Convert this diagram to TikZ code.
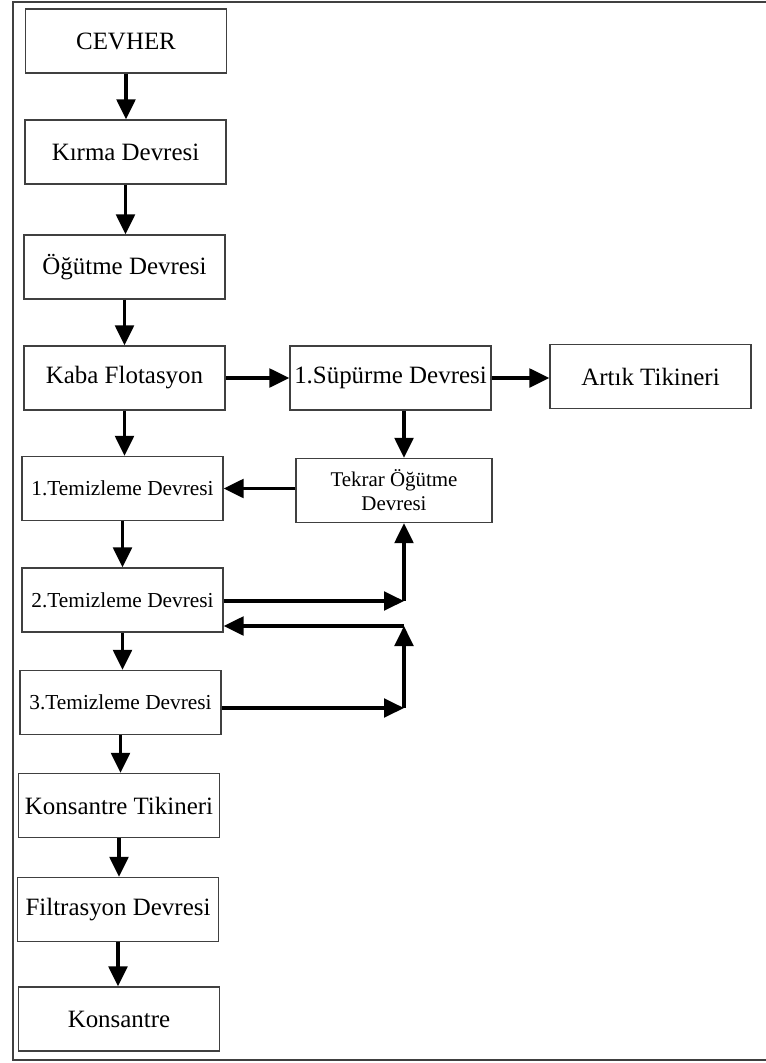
\documentclass[tikz,border=0pt]{standalone}
\usepackage{fontspec}
\setmainfont{Liberation Serif}
\usetikzlibrary{arrows.meta}
\definecolor{framegray}{HTML}{404040}
\begin{document}
\begin{tikzpicture}[x=0.75pt,y=-0.75pt,
        box/.style={draw=framegray,line width=0.9pt,rectangle,minimum width=150.75pt,minimum height=48pt,inner sep=0pt,align=center,font=\fontsize{18.7}{21}\selectfont},
        smallbox/.style={box,font=\fontsize{16}{19}\selectfont},
        flow/.style={line width=2.4pt,-{Triangle[length=15pt,width=14pt]}}]
    \useasboundingbox (0,0) rectangle (765,1063);
    %% Frame
    \draw[framegray,line width=1.1pt] (13,2) rectangle (800,1060);
    %% Main column
    \node[box] (cevher) at (126,41) {CEVHER};
    \node[box] (kirma) at (125.5,152) {Kırma Devresi};
    \node[box] (ogutme) at (124.5,267) {Öğütme Devresi};
    \node[box] (kaba) at (124.5,378) {Kaba Flotasyon};
    \node[smallbox] (tem1) at (122.5,488.5) {1.Temizleme Devresi};
    \node[smallbox] (tem2) at (122.5,600) {2.Temizleme Devresi};
    \node[smallbox] (tem3) at (120.5,702.5) {3.Temizleme Devresi};
    \node[box] (ktik) at (119,805.5) {Konsantre Tikineri};
    \node[box] (filt) at (118,909.5) {Filtrasyon Devresi};
    \node[box] (kons) at (119,1019) {Konsantre};
    %% Scavenger side
    \node[box] (sup) at (390.5,378) {1.Süpürme Devresi};
    \node[box] (artik) at (650.5,376.5) {Artık Tikineri};
    \node[box,minimum width=147pt,font=\fontsize{15.7}{18}\selectfont] (tekrar) at (394,490.5) {Tekrar Öğütme\\Devresi};
    %% Junctions on the riser
    \coordinate (j1) at (404,601);
    \coordinate (j2) at (404,626);
    \coordinate (j3) at (404,708);
    %% Arrows down the main column
    \draw[flow] (cevher.south) -- (cevher.south |- kirma.north);
    \draw[flow] (kirma.south) -- (kirma.south |- ogutme.north);
    \draw[flow] (ogutme.south) -- (ogutme.south |- kaba.north);
    \draw[flow] (kaba.south) -- (kaba.south |- tem1.north);
    \draw[flow] (tem1.south) -- (tem1.south |- tem2.north);
    \draw[flow] (tem2.south) -- (tem2.south |- tem3.north);
    \draw[flow] (tem3.south) -- (tem3.south |- ktik.north);
    \draw[flow] (ktik.south) -- (ktik.south |- filt.north);
    \draw[flow] (filt.south) -- (filt.south |- kons.north);
    %% Side arrows
    \draw[flow] (kaba.east) -- (kaba.east -| sup.west);
    \draw[flow] (sup.east) -- (sup.east -| artik.west);
    \draw[flow] (sup.south -| j1) -- (tekrar.north -| j1);
    \draw[flow] (tekrar.west |- tem1.east) -- (tem1.east);
    %% Recycle loop
    \draw[flow] (tem2.east |- j1) -- (j1);
    \draw[flow] (j1) -- (tekrar.south -| j1);
    \draw[flow] (j2) -- (j2 -| tem2.east);
    \draw[flow] (tem3.east |- j3) -- (j3);
    \draw[flow] (j3) -- (j2);
\end{tikzpicture}
\end{document}
